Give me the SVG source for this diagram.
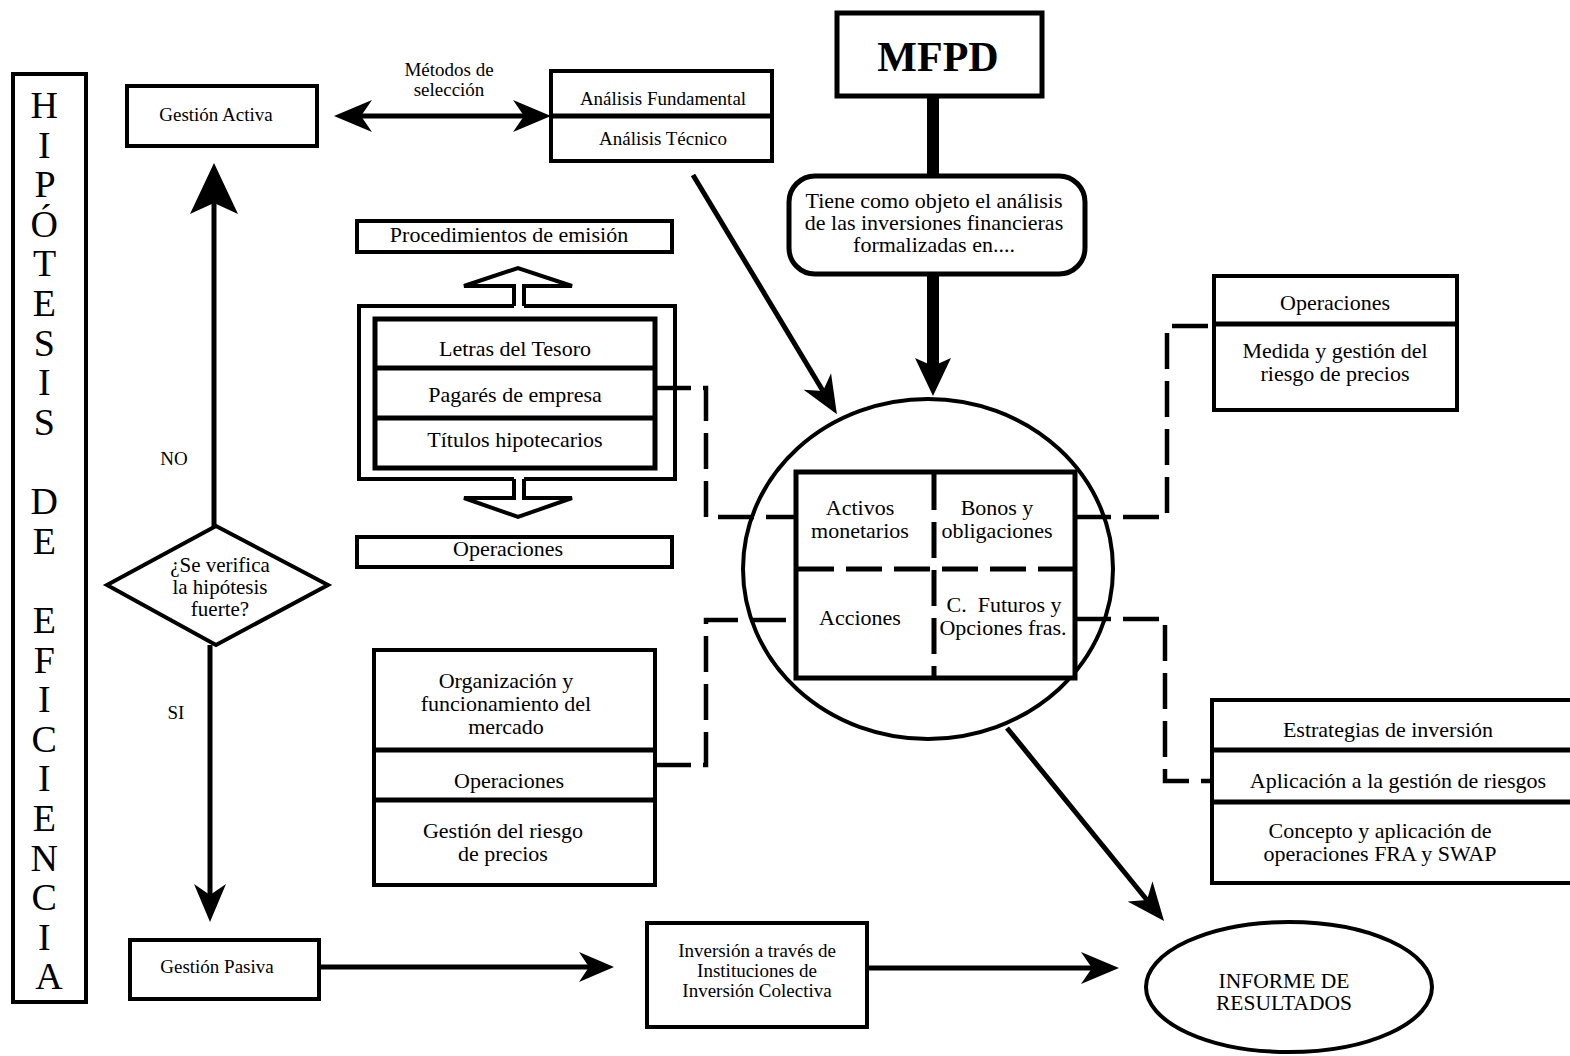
<svg xmlns="http://www.w3.org/2000/svg" width="1570" height="1056" viewBox="0 0 1570 1056">
<defs>
<style>
text{font-family:"Liberation Serif","Times New Roman",serif;fill:#000;text-anchor:middle}
.s{font-size:19px}
.m{font-size:22px}
.big{font-size:38px}
.box{fill:#fff;stroke:#000;stroke-width:4}
.thick{fill:#fff;stroke:#000;stroke-width:5}
.ln{fill:none;stroke:#000;stroke-width:4}
.div{fill:none;stroke:#000;stroke-width:5}
.dash{fill:none;stroke:#000;stroke-width:4.5;stroke-dasharray:36 12}
.arr{fill:none;stroke:#000;stroke-width:5}
</style>
<marker id="ah" markerUnits="userSpaceOnUse" viewBox="-2 -20 44 40" refX="11" refY="0" markerWidth="44" markerHeight="40" orient="auto-start-reverse" overflow="visible">
<path d="M0,-16 L38,0 L0,16 L11,0 Z" fill="#000"/>
</marker>
<marker id="ahL" markerUnits="userSpaceOnUse" viewBox="-2 -26 56 52" refX="11" refY="0" markerWidth="56" markerHeight="52" orient="auto" overflow="visible">
<path d="M0,-24 L51,0 L0,24 L11,0 Z" fill="#000"/>
</marker>
<marker id="ahS" markerUnits="userSpaceOnUse" viewBox="-2 -18 40 36" refX="10" refY="0" markerWidth="40" markerHeight="36" orient="auto" overflow="visible">
<path d="M0,-15 L35,0 L0,15 L10,0 Z" fill="#000"/>
</marker>
<marker id="ahB" markerUnits="userSpaceOnUse" viewBox="-2 -20 44 40" refX="8" refY="0" markerWidth="44" markerHeight="40" orient="auto" overflow="visible">
<path d="M0,-18 L38,0 L0,18 L8,0 Z" fill="#000"/>
</marker>
</defs>
<rect width="1570" height="1056" fill="#fff"/>

<g id="activos-financieros-outline">
<ellipse cx="928" cy="569" rx="185" ry="170" fill="none" stroke="#000" stroke-width="4"/>
</g>

<g id="connectors">
<line class="arr" x1="361" y1="116" x2="524" y2="116" marker-start="url(#ah)" marker-end="url(#ah)"/>
<line class="arr" x1="214" y1="527" x2="214" y2="203" marker-end="url(#ahL)"/>
<line class="arr" x1="210" y1="645" x2="210" y2="895" marker-end="url(#ah)"/>
<line class="arr" x1="319" y1="967" x2="589" y2="967" marker-end="url(#ahS)"/>
<line class="arr" x1="868" y1="968" x2="1092" y2="968" marker-end="url(#ah)"/>
<line class="arr" x1="693" y1="175" x2="823" y2="391" marker-end="url(#ah)"/>
<line class="arr" x1="1007" y1="728" x2="1147" y2="900" marker-end="url(#ah)"/>
<line x1="933" y1="96" x2="933" y2="176" stroke="#000" stroke-width="12"/>
<line x1="933" y1="274" x2="933" y2="366" stroke="#000" stroke-width="12" marker-end="url(#ahB)"/>
<path class="dash" d="M655,388 H706 V517 H796"/>
<path class="dash" d="M1075,517 H1167 V326 H1214"/>
<path class="dash" d="M1075,619 H1165 V781 H1212"/>
<path class="dash" d="M655,765 H706 V620 H796"/>
<polyline class="ln" points="514,306 514,286 464,286 518,268 572,286 524,286 524,306"/>
<polyline class="ln" points="514,479 514,498 464,498 518,517 572,498 524,498 524,479"/>
</g>

<g id="hipotesis">
<rect class="box" x="13" y="74" width="73" height="928"/>
<text class="big">
<tspan x="49" y="118">H</tspan>
<tspan x="49" y="158">I</tspan>
<tspan x="49" y="197">P</tspan>
<tspan x="49" y="237">Ó</tspan>
<tspan x="49" y="276">T</tspan>
<tspan x="49" y="316">E</tspan>
<tspan x="49" y="356">S</tspan>
<tspan x="49" y="395">I</tspan>
<tspan x="49" y="435">S</tspan>
<tspan x="49" y="514">D</tspan>
<tspan x="49" y="554">E</tspan>
<tspan x="49" y="633">E</tspan>
<tspan x="49" y="673">F</tspan>
<tspan x="49" y="712">I</tspan>
<tspan x="49" y="752">C</tspan>
<tspan x="49" y="791">I</tspan>
<tspan x="49" y="831">E</tspan>
<tspan x="49" y="871">N</tspan>
<tspan x="49" y="910">C</tspan>
<tspan x="49" y="950">I</tspan>
<tspan x="49" y="989">A</tspan>
</text>
</g>

<g id="gestion-activa">
<rect class="box" x="127" y="86" width="190" height="60"/>
<text class="s" x="216" y="121">Gestión Activa</text>
</g>

<g id="metodos-label">
<text class="s" x="449" y="76">Métodos de</text>
<text class="s" x="449" y="96">selección</text>
</g>

<g id="analisis">
<rect class="box" x="551" y="71" width="221" height="90"/>
<line class="div" x1="551" y1="116" x2="772" y2="116"/>
<text class="s" x="663" y="105">Análisis Fundamental</text>
<text class="s" x="663" y="145">Análisis Técnico</text>
</g>

<g id="mfpd">
<rect class="thick" x="837" y="13" width="205" height="83"/>
<text x="938" y="71" style="font-size:42px;font-weight:bold">MFPD</text>
</g>

<g id="objeto">
<rect class="thick" x="789" y="176" width="296" height="98" rx="26" ry="26"/>
<text class="m" x="934" y="208">Tiene como objeto el análisis</text>
<text class="m" x="934" y="230">de las inversiones financieras</text>
<text class="m" x="934" y="252">formalizadas en....</text>
</g>

<g id="procedimientos">
<rect class="box" x="357" y="221" width="315" height="31"/>
<text class="m" x="509" y="242">Procedimientos de emisión</text>
</g>

<g id="activos-monetarios-list">
<path class="ln" d="M514,306 H359 V479 H514 M524,479 H675 V306 H524"/>
<rect class="thick" x="375" y="319" width="280" height="149"/>
<line class="div" x1="375" y1="368" x2="655" y2="368"/>
<line class="div" x1="375" y1="418" x2="655" y2="418"/>
<text class="m" x="515" y="356">Letras del Tesoro</text>
<text class="m" x="515" y="402">Pagarés de empresa</text>
<text class="m" x="515" y="447">Títulos hipotecarios</text>
</g>

<g id="operaciones-mid">
<rect class="box" x="357" y="537" width="315" height="30"/>
<text class="m" x="508" y="556">Operaciones</text>
</g>

<g id="decision">
<polygon class="box" points="107,585 216,526 328,585 216,645"/>
<text class="m" x="220" y="572" style="font-size:21px">¿Se verifica</text>
<text class="m" x="220" y="594" style="font-size:21px">la hipótesis</text>
<text class="m" x="220" y="616" style="font-size:21px">fuerte?</text>
</g>

<g id="labels-no-si">
<text class="s" x="174" y="465">NO</text>
<text class="s" x="176" y="719">SI</text>
</g>

<g id="acciones-box">
<rect class="box" x="374" y="650" width="281" height="235"/>
<line class="div" x1="374" y1="750" x2="655" y2="750"/>
<line class="div" x1="374" y1="800" x2="655" y2="800"/>
<text class="m" x="506" y="688">Organización y</text>
<text class="m" x="506" y="711">funcionamiento del</text>
<text class="m" x="506" y="734">mercado</text>
<text class="m" x="509" y="788">Operaciones</text>
<text class="m" x="503" y="838">Gestión del riesgo</text>
<text class="m" x="503" y="861">de precios</text>
</g>

<g id="activos-financieros">
<rect class="thick" x="796" y="472" width="279" height="206"/>
<line class="dash" x1="934" y1="474" x2="934" y2="676" style="stroke-width:5"/>
<line class="dash" x1="798" y1="569" x2="1073" y2="569" style="stroke-width:5"/>
<text class="m" x="860" y="515">Activos</text>
<text class="m" x="860" y="538">monetarios</text>
<text class="m" x="997" y="515">Bonos y</text>
<text class="m" x="997" y="538">obligaciones</text>
<text class="m" x="860" y="625">Acciones</text>
<text class="m" x="1004" y="612" xml:space="preserve">C.  Futuros y</text>
<text class="m" x="1003" y="635">Opciones fras.</text>
</g>

<g id="operaciones-right">
<rect class="box" x="1214" y="276" width="243" height="134"/>
<line class="div" x1="1214" y1="324" x2="1457" y2="324"/>
<text class="m" x="1335" y="310">Operaciones</text>
<text class="m" x="1335" y="358">Medida y gestión del</text>
<text class="m" x="1335" y="381">riesgo de precios</text>
</g>

<g id="estrategias">
<rect class="box" x="1212" y="700" width="400" height="183"/>
<line class="div" x1="1212" y1="750" x2="1570" y2="750"/>
<line class="div" x1="1212" y1="802" x2="1570" y2="802"/>
<text class="m" x="1388" y="737">Estrategias de inversión</text>
<text class="m" x="1398" y="788">Aplicación a la gestión de riesgos</text>
<text class="m" x="1380" y="838">Concepto y aplicación de</text>
<text class="m" x="1380" y="861">operaciones FRA y SWAP</text>
</g>

<g id="gestion-pasiva">
<rect class="box" x="130" y="940" width="189" height="59"/>
<text class="s" x="217" y="973">Gestión Pasiva</text>
</g>

<g id="inversion-colectiva">
<rect class="box" x="647" y="923" width="220" height="104"/>
<text class="s" x="757" y="957">Inversión a través de</text>
<text class="s" x="757" y="977">Instituciones de</text>
<text class="s" x="757" y="997">Inversión Colectiva</text>
</g>

<g id="informe">
<ellipse class="box" cx="1289" cy="987" rx="143" ry="65"/>
<text x="1284" y="988" style="font-size:21.5px">INFORME DE</text>
<text x="1284" y="1010" style="font-size:21.5px">RESULTADOS</text>
</g>
</svg>
